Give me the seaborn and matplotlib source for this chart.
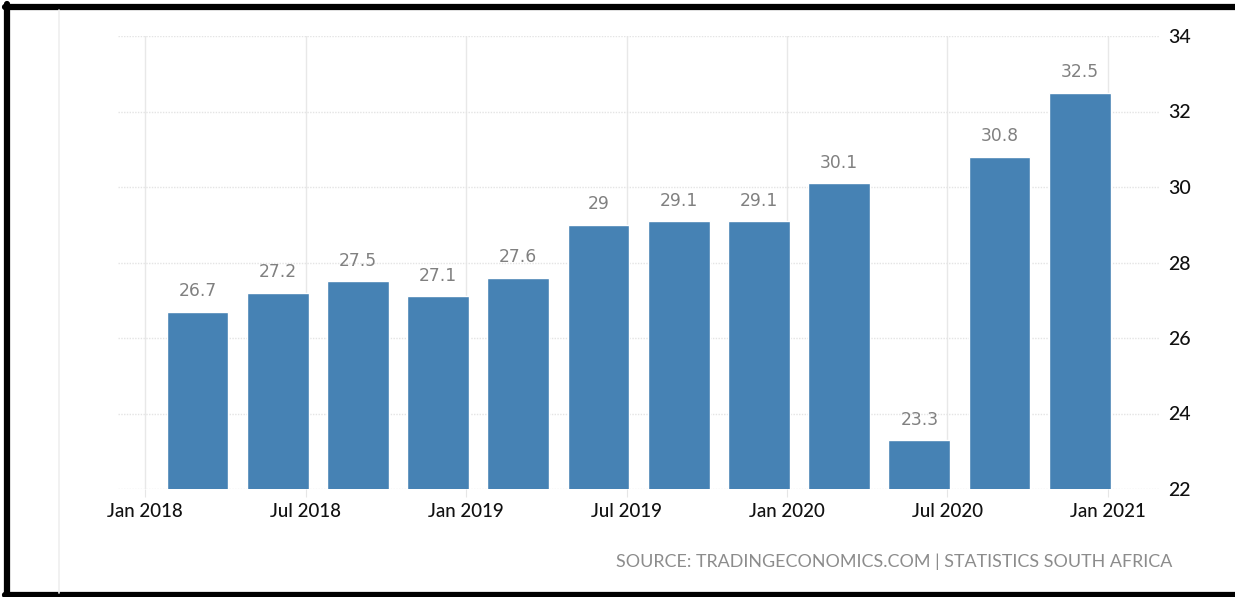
import matplotlib
matplotlib.use("Agg")
import matplotlib.pyplot as plt
from matplotlib.lines import Line2D
import seaborn as sns
import pandas as pd

quarters = ["Q1 2018", "Q2 2018", "Q3 2018", "Q4 2018",
            "Q1 2019", "Q2 2019", "Q3 2019", "Q4 2019",
            "Q1 2020", "Q2 2020", "Q3 2020", "Q4 2020"]
values = [26.7, 27.2, 27.5, 27.1, 27.6, 29.0, 29.1, 29.1, 30.1, 23.3, 30.8, 32.5]
value_labels = ["26.7", "27.2", "27.5", "27.1", "27.6", "29", "29.1", "29.1",
                "30.1", "23.3", "30.8", "32.5"]
date_ticks = ["Jan 2018", "Jul 2018", "Jan 2019", "Jul 2019",
              "Jan 2020", "Jul 2020", "Jan 2021"]
y_ticks = [22, 24, 26, 28, 30, 32, 34]
source_text = "SOURCE: TRADINGECONOMICS.COM | STATISTICS SOUTH AFRICA"

df = pd.DataFrame({"quarter": quarters, "value": values})

sns.set_theme(style="white")
plt.rcParams["font.family"] = ["Lato", "DejaVu Sans"]

W, H = 1235, 597
fig = plt.figure(figsize=(W / 100, H / 100), dpi=100)
ax = fig.add_axes([118 / W, (H - 489) / H, (1160 - 118) / W, (489 - 36) / H])

sns.barplot(data=df, x="quarter", y="value", color="#4682b4", saturation=1,
            width=0.77, ax=ax, zorder=3)

for i, (v, lab) in enumerate(zip(values, value_labels)):
    ax.text(i, v + 0.3, lab, ha="center", va="bottom", fontsize=12.3,
            color="#808080", family="DejaVu Sans", zorder=4)

ax.set_ylim(22, 34)
ax.set_xlim(-0.99, 12.0)
tick_pos = [-0.65 + 2 * k for k in range(len(date_ticks))]
ax.set_xticks(tick_pos)
ax.set_xticklabels(date_ticks, fontsize=13.5, color="#111111", fontweight="medium")
ax.set_yticks(y_ticks)
ax.set_yticklabels([str(t) for t in y_ticks], fontsize=14, color="#111111",
                   fontweight="medium")
ax.yaxis.tick_right()
ax.tick_params(axis="y", length=0, pad=6)
ax.tick_params(axis="x", length=6, width=0.8, color="#e6e6e6", pad=4, bottom=True)
ax.set_xlabel("")
ax.set_ylabel("")

ax.grid(True, axis="y", color="#e4e4e4", linestyle=(0, (1, 1)), linewidth=1, zorder=0)
ax.grid(True, axis="x", color="#e8e8e8", linestyle="-", linewidth=1, zorder=0)
for s in ax.spines.values():
    s.set_visible(False)

fig.text(1172 / W, (H - 562) / H, source_text, ha="right", va="center",
         fontsize=12.9, color="#8c8c8c")

# outer frame lines
frame = [
    ([5 / W, 1.0], [1 - 6.5 / H, 1 - 6.5 / H], "black", 4.5),
    ([7 / W, 7 / W], [0, 1 - 4 / H], "black", 4.5),
    ([5 / W, 1.0], [2.5 / H, 2.5 / H], "black", 4.5),
    ([59 / W, 59 / W], [4 / H, 1 - 10 / H], "#efefef", 1.2),
]
for xs, ys, c, lw in frame:
    fig.add_artist(Line2D(xs, ys, color=c, linewidth=lw, transform=fig.transFigure))

fig.savefig("out.png", dpi=100)
